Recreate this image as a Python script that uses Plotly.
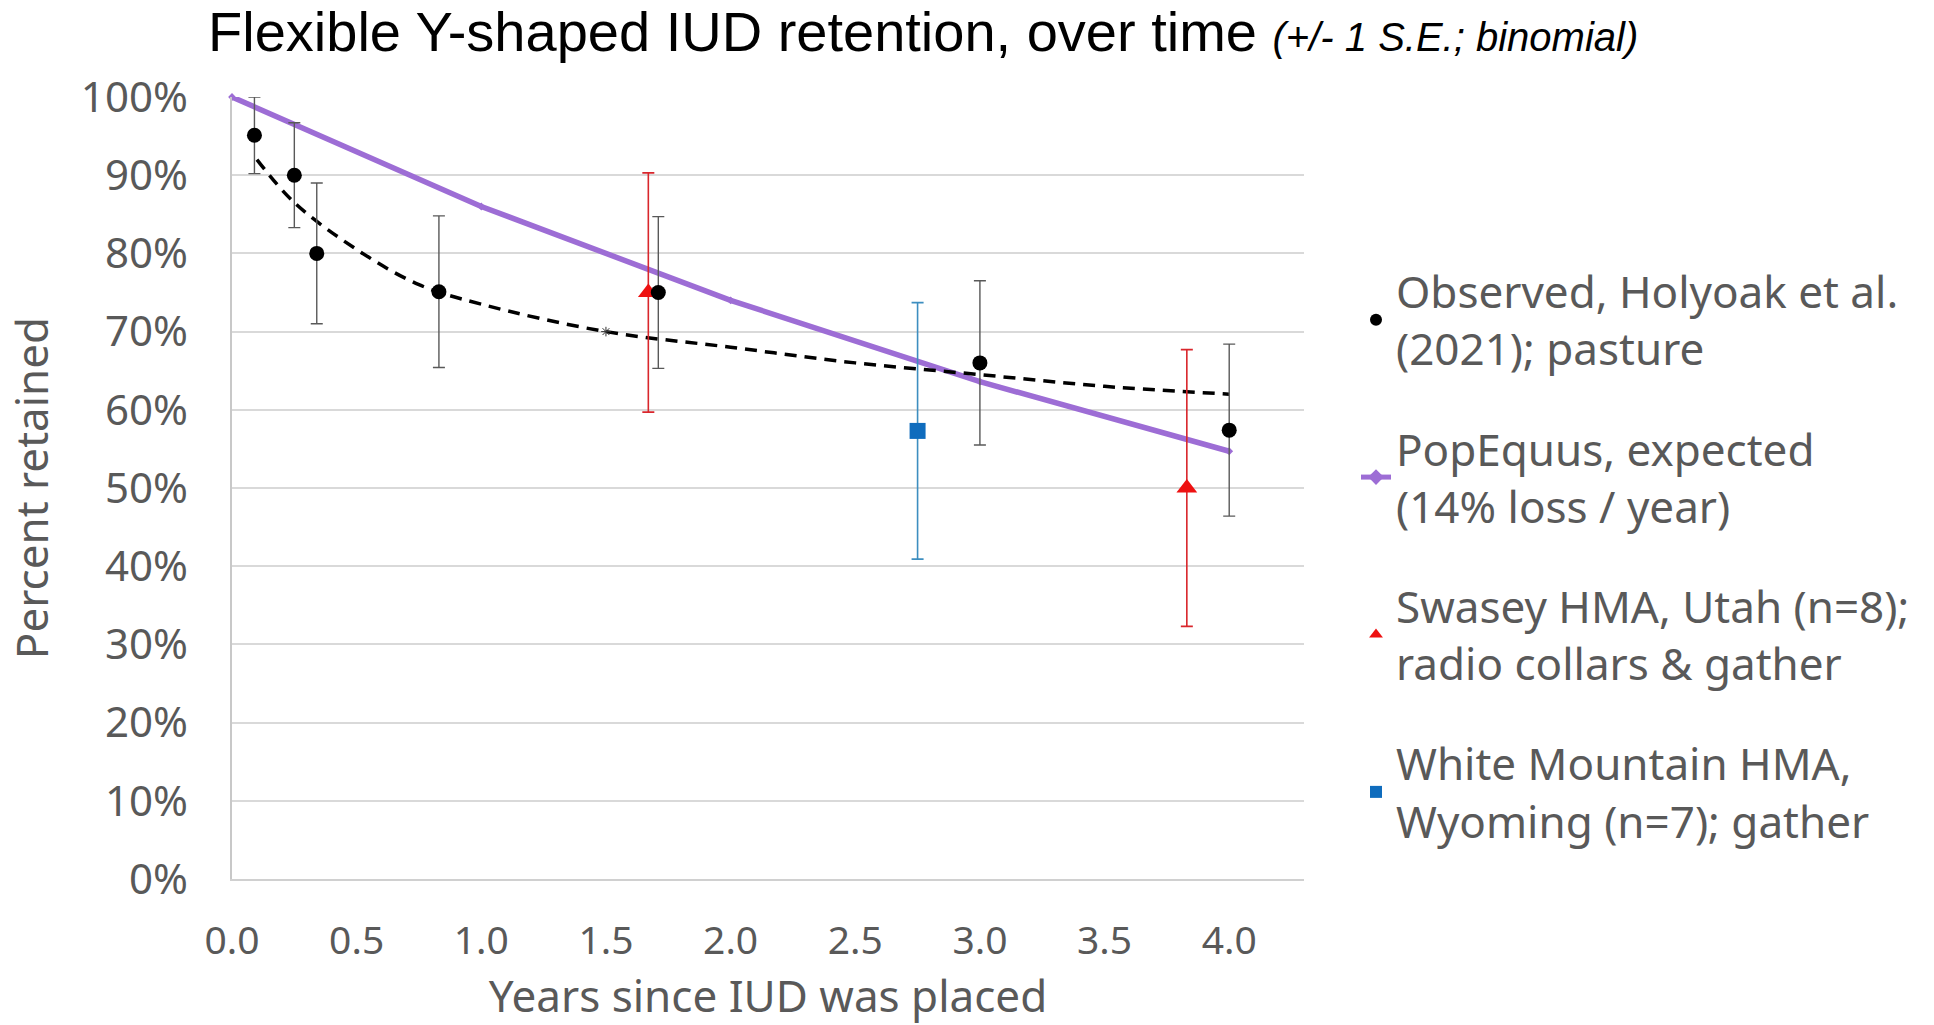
import plotly.graph_objects as go

# ---- data ----
obs_x = [0.09, 0.25, 0.34, 0.83, 1.71, 3.0, 4.0]
obs_y = [95.1, 90.0, 80.0, 75.1, 75.0, 66.0, 57.4]
obs_se = [4.9, 6.7, 9.0, 9.7, 9.7, 10.5, 11.0]

pop_x = [0, 1, 2, 3, 4]
pop_y = [100, 86, 74, 63.6, 54.7]

swasey_x = [1.67, 3.83]
swasey_y = [75.0, 50.0]
swasey_se = [15.3, 17.7]

wm_x = [2.75]
wm_y = [57.3]
wm_se = [16.4]

trend_x = [0.1, 0.25, 0.5, 0.75, 1.0, 1.5, 2.0, 2.5, 3.0, 3.5, 4.0]
trend_y = [92.0, 86.5, 80.5, 76.0, 73.5, 70.0, 68.0, 66.0, 64.5, 63.0, 62.0]
trend_mark_x = [1.5]
trend_mark_y = [70.0]

x_ticks = [0, 0.5, 1.0, 1.5, 2.0, 2.5, 3.0, 3.5, 4.0]
y_ticks = [0, 10, 20, 30, 40, 50, 60, 70, 80, 90, 100]
y_ticktext = ["0%", "10%", "20%", "30%", "40%", "50%", "60%", "70%", "80%", "90%", "100%"]

names = [
    "Observed, Holyoak et al.<br>(2021); pasture",
    "PopEquus, expected<br>(14% loss / year)",
    "Swasey HMA, Utah (n=8);<br>radio collars & gather",
    "White Mountain HMA,<br>Wyoming (n=7); gather",
]

FONT = "Noto Sans"
TFONT = "Liberation Sans"
GREY = "#595959"

fig = go.Figure()

fig.add_trace(go.Scatter(
    x=pop_x, y=pop_y, mode="lines+markers", name=names[1],
    line=dict(color="#9D6DD5", width=5.5),
    marker=dict(symbol="diamond", size=6, color="#9D6DD5"),
    legendgroup="b", legendrank=2, cliponaxis=False,
))

fig.add_trace(go.Scatter(
    x=trend_x, y=trend_y, mode="lines", showlegend=False,
    line=dict(color="black", width=3.5, dash="12px,8px", shape="spline"),
    hoverinfo="skip", cliponaxis=False,
))
fig.add_trace(go.Scatter(
    x=trend_mark_x, y=trend_mark_y, mode="markers", showlegend=False,
    marker=dict(symbol="asterisk-open", size=8, color="#333333",
                line=dict(color="#333333", width=1)),
    hoverinfo="skip",
))

fig.add_trace(go.Scatter(
    x=swasey_x, y=swasey_y, mode="markers", name=names[2],
    marker=dict(symbol="triangle-up", size=18, color="#EE1111"),
    error_y=dict(type="data", array=swasey_se, visible=True,
                 color="#D9262C", thickness=1.6, width=6),
    legendgroup="c", legendrank=3, cliponaxis=False,
))

fig.add_trace(go.Scatter(
    x=wm_x, y=wm_y, mode="markers", name=names[3],
    marker=dict(symbol="square", size=16, color="#0F6CBD"),
    error_y=dict(type="data", array=wm_se, visible=True,
                 color="#3D8EC0", thickness=1.6, width=6),
    legendgroup="d", legendrank=4, cliponaxis=False,
))

fig.add_trace(go.Scatter(
    x=obs_x, y=obs_y, mode="markers", name=names[0],
    marker=dict(symbol="circle", size=15, color="black"),
    error_y=dict(type="data", array=obs_se, visible=True,
                 color=GREY, thickness=1.4, width=6),
    legendgroup="a", legendrank=1, cliponaxis=False,
))

fig.update_layout(
    width=1934, height=1025,
    margin=dict(l=232, r=630, t=97, b=141),
    paper_bgcolor="white", plot_bgcolor="white",
    font=dict(family=FONT, color=GREY),
    title=dict(
        text="Flexible Y-shaped IUD retention, over time "
             "<i><span style='font-size:40px'>(+/- 1 S.E.; binomial)</span></i>",
        font=dict(family=TFONT, size=56, color="black"),
        xref="container", x=208 / 1934, xanchor="left",
        yref="container", y=1 - 31 / 1025, yanchor="middle",
    ),
    xaxis=dict(
        range=[0, 4.3], tickvals=x_ticks, tickformat=".1f",
        showgrid=False, zeroline=False,
        showline=True, linecolor="#D0D0D0", linewidth=1.5,
        ticks="", ticklabelstandoff=26,
        tickfont=dict(family=FONT, size=39, color=GREY),
        title=dict(text="Years since IUD was placed", standoff=18,
                   font=dict(family=FONT, size=44, color=GREY)),
    ),
    yaxis=dict(
        range=[0, 100], tickvals=y_ticks, ticktext=y_ticktext,
        showgrid=True, gridcolor="#D9D9D9", gridwidth=1.5,
        zeroline=False,
        showline=True, linecolor="#C8C8C8", linewidth=1.5,
        ticks="", ticklabelstandoff=34,
        tickfont=dict(family=FONT, size=42, color=GREY),
        title=dict(text="Percent retained", standoff=18,
                   font=dict(family=FONT, size=44, color=GREY)),
    ),
    legend=dict(
        x=(1356 - 232) / 1072, xanchor="left",
        y=(884 - 257) / 787, yanchor="top",
        font=dict(family=FONT, size=44, color=GREY),
        tracegroupgap=40, itemsizing="constant",
        bgcolor="rgba(0,0,0,0)",
    ),
    showlegend=True,
)

fig.write_html("out.html")
